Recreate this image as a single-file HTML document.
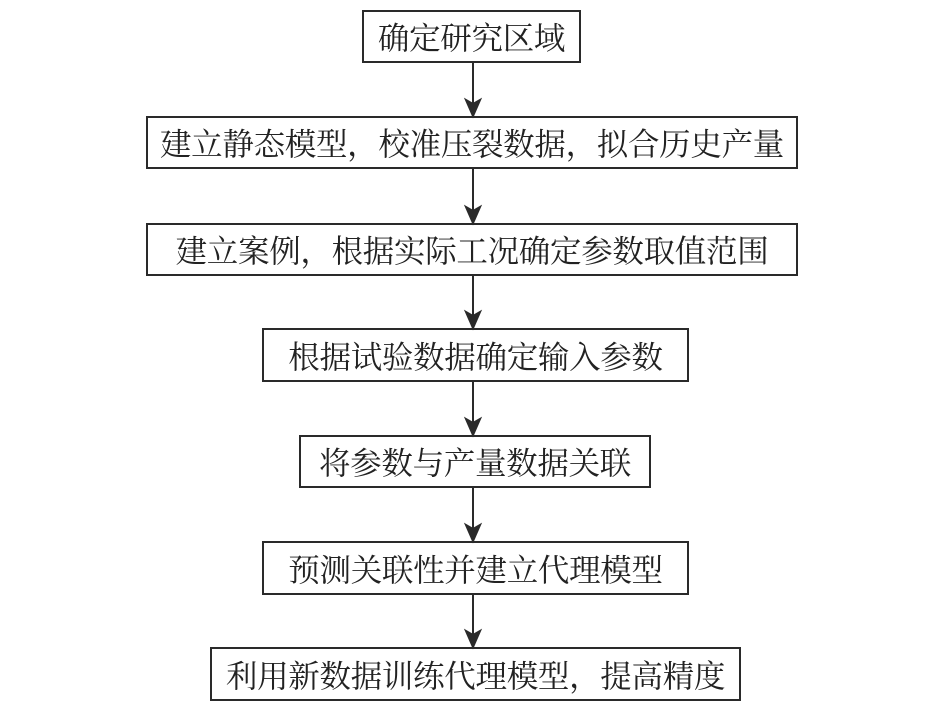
<!DOCTYPE html>
<html><head><meta charset="utf-8"><style>
body{margin:0;width:945px;height:709px;background:#fff;position:relative;overflow:hidden;font-family:"Noto Serif CJK SC",serif;}
.b{position:absolute;box-sizing:border-box;border:2px solid #2a2a2a;display:flex;align-items:center;justify-content:center;font-size:31.5px;color:#222;white-space:nowrap;letter-spacing:-0.3px;}
svg{position:absolute;left:0;top:0}
</style></head><body>
<svg width="945" height="709">
<g stroke="#2a2a2a" stroke-width="2" fill="#2a2a2a">
<line x1="473" y1="62" x2="473" y2="105"/><polygon points="466,100 473,116 480,100 473,104"/>
<line x1="473" y1="168" x2="473" y2="212"/><polygon points="466,207 473,223 480,207 473,211"/>
<line x1="473" y1="275" x2="473" y2="317"/><polygon points="466,312 473,328 480,312 473,316"/>
<line x1="473" y1="381" x2="473" y2="424"/><polygon points="466,419 473,435 480,419 473,423"/>
<line x1="473" y1="487" x2="473" y2="530"/><polygon points="466,525 473,541 480,525 473,529"/>
<line x1="473" y1="594" x2="473" y2="636"/><polygon points="466,631 473,647 480,631 473,635"/>
</g></svg>
<div class="b" style="left:362px;top:10px;width:219px;height:53px">确定研究区域</div>
<div class="b" style="left:146px;top:116px;width:652px;height:53px">建立静态模型，校准压裂数据，拟合历史产量</div>
<div class="b" style="left:146px;top:223px;width:652px;height:53px">建立案例，根据实际工况确定参数取值范围</div>
<div class="b" style="left:262px;top:328px;width:427px;height:54px">根据试验数据确定输入参数</div>
<div class="b" style="left:299px;top:435px;width:352px;height:53px">将参数与产量数据关联</div>
<div class="b" style="left:262px;top:541px;width:427px;height:54px">预测关联性并建立代理模型</div>
<div class="b" style="left:210px;top:647px;width:531px;height:54px">利用新数据训练代理模型，提高精度</div>
</body></html>
